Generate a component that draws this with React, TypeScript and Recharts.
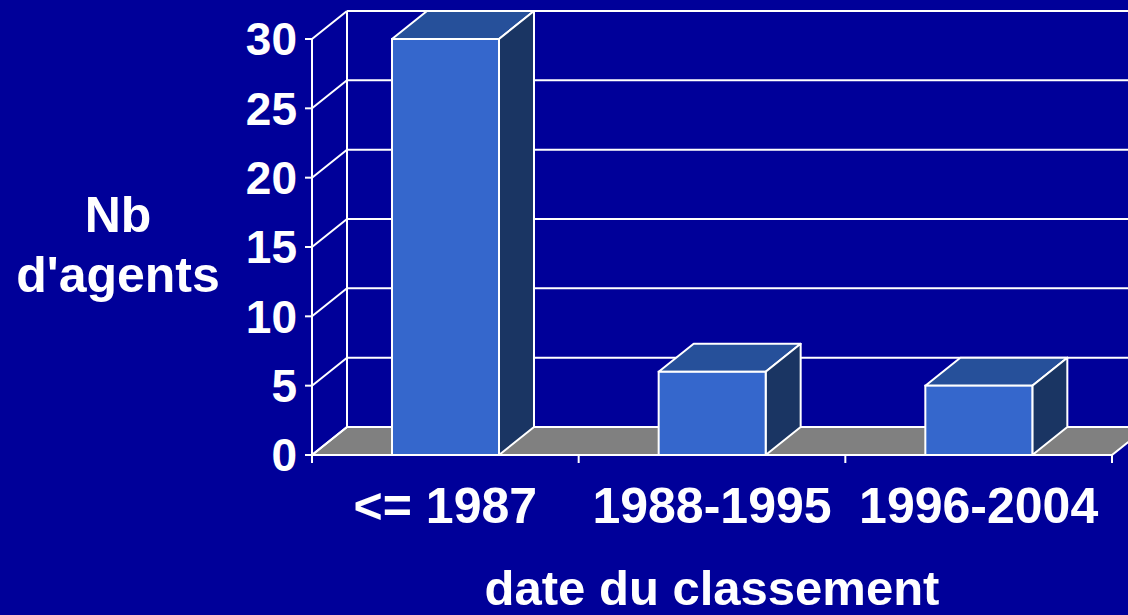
import React from 'react';
import { BarChart, Bar, XAxis, YAxis, CartesianGrid } from 'recharts';

const categories = ['<= 1987', '1988-1995', '1996-2004'];
const agents = [30, 6, 5];
const yTicks = [0, 5, 10, 15, 20, 25, 30];
const yLabelLines = ['Nb', "d'agents"];
const xTitle = 'date du classement';

const data = categories.map((c, i) => ({ cat: c, value: agents[i] }));

const BG = '#000099';
const FRONT = '#3567CC';
const TOP = '#26509A';
const SIDE = '#1A3563';
const FLOOR = '#808080';
const LINE = '#FFFFFF';
const DX = 35;
const DY = 28;
const FONT = '"Liberation Sans", Arial, Helvetica, sans-serif';

const Bar3D = (props: any) => {
  const { x, y, width: w, height: h } = props;
  if (w == null || h == null) return null;
  return (
    <g>
      <polygon
        points={`${x},${y} ${x + DX},${y - DY} ${x + w + DX},${y - DY} ${x + w},${y}`}
        fill={TOP}
        stroke={LINE}
        strokeWidth={2}
        strokeLinejoin="round"
      />
      <polygon
        points={`${x + w},${y} ${x + w + DX},${y - DY} ${x + w + DX},${y + h - DY} ${x + w},${y + h}`}
        fill={SIDE}
        stroke={LINE}
        strokeWidth={2}
        strokeLinejoin="round"
      />
      <rect x={x} y={y} width={w} height={h} fill={FRONT} stroke={LINE} strokeWidth={2} />
    </g>
  );
};

const gridLine = (props: any) => {
  const { x1, y1, x2, index, y, height } = props;
  const bottom = y + height;
  const isFloor = Math.abs(y1 - bottom) < 0.5;
  return (
    <g key={`gl-${index}`}>
      {isFloor && (
        <polygon
          points={`${x1},${y1} ${x2},${y1} ${x2 + DX},${y1 - DY} ${x1 + DX},${y1 - DY}`}
          fill={FLOOR}
          stroke={LINE}
          strokeWidth={2}
        />
      )}
      {isFloor && (
        <line x1={x1 + DX} y1={y - DY} x2={x1 + DX} y2={bottom - DY} stroke={LINE} strokeWidth={2} />
      )}
      <line x1={x1} y1={y1} x2={x1 + DX} y2={y1 - DY} stroke={LINE} strokeWidth={2} />
      <line x1={x1 + DX} y1={y1 - DY} x2={x2 + DX} y2={y1 - DY} stroke={LINE} strokeWidth={2} />
    </g>
  );
};

const XTick = (props: any) => {
  const { x, y, payload, index, visibleTicksCount } = props;
  const off = payload.offset || 0;
  const last = index === (visibleTicksCount ?? categories.length) - 1;
  return (
    <g>
      <line x1={x - off} y1={y} x2={x - off} y2={y + 8} stroke={LINE} strokeWidth={2} />
      {last && <line x1={x + off} y1={y} x2={x + off} y2={y + 8} stroke={LINE} strokeWidth={2} />}
      <text
        x={x}
        y={y + 68}
        textAnchor="middle"
        fill="#FFFFFF"
        fontSize={50}
        fontWeight="bold"
        fontFamily={FONT}
      >
        {payload.value}
      </text>
    </g>
  );
};

const YLabel = (props: any) => {
  const vb = props.viewBox || { x: 0, y: 39 };
  const cx = vb.x + 118;
  return (
    <text textAnchor="middle" fill="#FFFFFF" fontSize={50} fontWeight="bold" fontFamily={FONT}>
      <tspan x={cx} y={vb.y + 193}>{yLabelLines[0]}</tspan>
      <tspan x={cx} y={vb.y + 253}>{yLabelLines[1]}</tspan>
    </text>
  );
};

export default function App() {
  return (
    <div style={{ position: 'absolute', left: 0, top: 0, width: 1128, height: 615, background: BG, overflow: 'hidden' }}>
      <BarChart
        width={1128}
        height={615}
        data={data}
        margin={{ top: 39, right: 16, left: 0, bottom: 0 }}
      >
        <CartesianGrid horizontal={gridLine} vertical={false} />
        <XAxis
          dataKey="cat"
          height={160}
          tickSize={0}
          tickMargin={0}
          tickLine={false}
          axisLine={{ stroke: LINE, strokeWidth: 2 }}
          tick={<XTick />}
          interval={0}
          label={{
            value: xTitle,
            position: 'insideBottom',
            offset: 10,
            fill: '#FFFFFF',
            fontSize: 49,
            fontWeight: 'bold',
            fontFamily: FONT,
          }}
        />
        <YAxis
          width={312}
          domain={[0, 30]}
          ticks={yTicks}
          interval={0}
          tickSize={7}
          tickMargin={8}
          axisLine={{ stroke: LINE, strokeWidth: 2 }}
          tickLine={{ stroke: LINE, strokeWidth: 2 }}
          tick={{ fill: '#FFFFFF', fontSize: 46, fontWeight: 'bold', fontFamily: FONT }}
          label={<YLabel />}
        />
        <Bar dataKey="value" barSize={107} isAnimationActive={false} shape={(p: any) => <Bar3D {...p} />} />
      </BarChart>
    </div>
  );
}
